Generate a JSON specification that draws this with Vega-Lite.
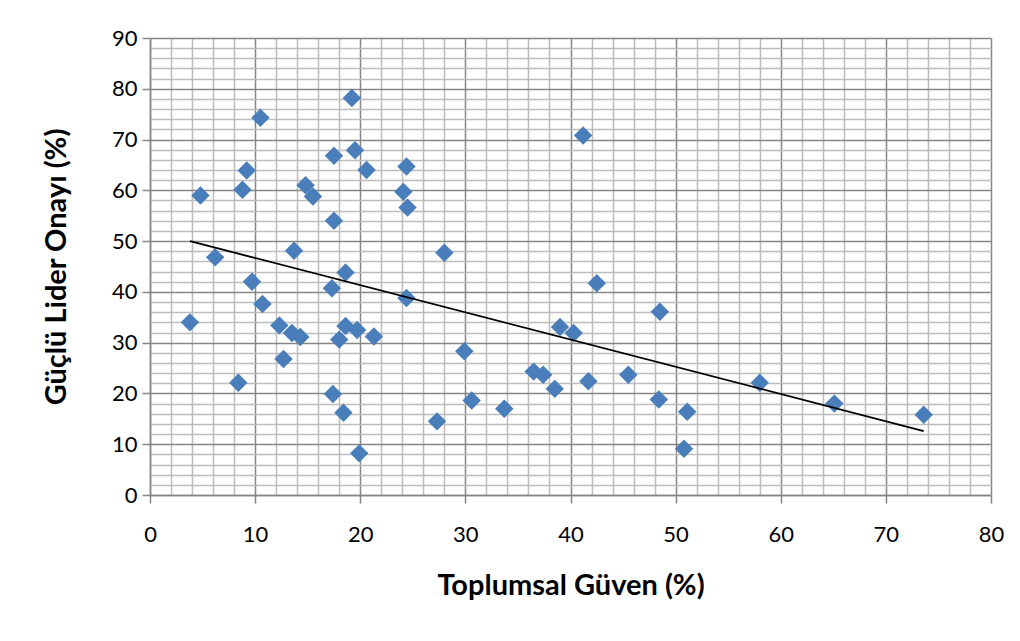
{
  "$schema": "https://vega.github.io/schema/vega-lite/v6.json",
  "width": 841,
  "height": 457,
  "autosize": {"type": "none"},
  "padding": {"left": 150, "top": 38, "right": 29, "bottom": 146},
  "background": "white",
  "config": {"view": {"stroke": null}},
  "datasets": {
    "pts": [
      {"guven": 3.8, "onay": 34.0}, {"guven": 4.8, "onay": 59.0}, {"guven": 6.2, "onay": 46.8},
      {"guven": 8.4, "onay": 22.1}, {"guven": 8.8, "onay": 60.1}, {"guven": 9.2, "onay": 63.9},
      {"guven": 9.7, "onay": 42.0}, {"guven": 10.5, "onay": 74.3}, {"guven": 10.7, "onay": 37.6},
      {"guven": 12.3, "onay": 33.4}, {"guven": 12.7, "onay": 26.8}, {"guven": 13.5, "onay": 31.9},
      {"guven": 13.7, "onay": 48.1}, {"guven": 14.3, "onay": 31.1}, {"guven": 14.8, "onay": 61.0},
      {"guven": 15.5, "onay": 58.8}, {"guven": 17.3, "onay": 40.7}, {"guven": 17.4, "onay": 19.9},
      {"guven": 17.5, "onay": 66.8}, {"guven": 17.5, "onay": 54.0}, {"guven": 18.0, "onay": 30.6},
      {"guven": 18.4, "onay": 16.2}, {"guven": 18.6, "onay": 43.8}, {"guven": 18.6, "onay": 33.3},
      {"guven": 19.2, "onay": 78.2}, {"guven": 19.5, "onay": 67.9}, {"guven": 19.7, "onay": 32.5},
      {"guven": 19.9, "onay": 8.2}, {"guven": 20.6, "onay": 64.0}, {"guven": 21.3, "onay": 31.2},
      {"guven": 24.1, "onay": 59.7}, {"guven": 24.4, "onay": 64.7}, {"guven": 24.5, "onay": 56.6},
      {"guven": 24.4, "onay": 38.8}, {"guven": 27.3, "onay": 14.5}, {"guven": 28.0, "onay": 47.7},
      {"guven": 29.9, "onay": 28.3}, {"guven": 30.6, "onay": 18.6}, {"guven": 33.7, "onay": 17.0},
      {"guven": 36.5, "onay": 24.3}, {"guven": 37.4, "onay": 23.7}, {"guven": 38.5, "onay": 20.9},
      {"guven": 39.0, "onay": 33.1}, {"guven": 40.3, "onay": 31.9}, {"guven": 41.2, "onay": 70.8},
      {"guven": 41.7, "onay": 22.4}, {"guven": 42.5, "onay": 41.7}, {"guven": 45.5, "onay": 23.7},
      {"guven": 48.4, "onay": 18.8}, {"guven": 48.5, "onay": 36.1}, {"guven": 50.8, "onay": 9.1},
      {"guven": 51.1, "onay": 16.4}, {"guven": 58.0, "onay": 22.1}, {"guven": 65.1, "onay": 18.0},
      {"guven": 73.6, "onay": 15.8}
    ],
    "trend": [
      {"guven": 3.8, "onay": 50.0},
      {"guven": 73.6, "onay": 12.6}
    ]
  },
  "layer": [
    {
      "data": {"name": "pts"},
      "mark": {"type": "point", "shape": "diamond", "filled": true, "size": 340, "color": "#4A7EBB", "opacity": 1},
      "encoding": {
        "x": {
          "field": "guven", "type": "quantitative",
          "scale": {"domain": [0, 80], "nice": false, "zero": false},
          "axis": {
            "orient": "bottom", "title": null, "labels": false, "ticks": false, "domain": false,
            "values": [2,4,6,8,12,14,16,18,22,24,26,28,32,34,36,38,42,44,46,48,52,54,56,58,62,64,66,68,72,74,76,78],
            "grid": true, "gridColor": "#BDBDBD", "gridWidth": 1.5
          }
        },
        "y": {
          "field": "onay", "type": "quantitative",
          "scale": {"domain": [0, 90], "nice": false, "zero": false},
          "axis": {
            "orient": "left", "title": null, "labels": false, "ticks": false, "domain": false,
            "values": [2,4,6,8,12,14,16,18,22,24,26,28,32,34,36,38,42,44,46,48,52,54,56,58,62,64,66,68,72,74,76,78,82,84,86,88],
            "grid": true, "gridColor": "#BDBDBD", "gridWidth": 1.5
          }
        }
      }
    },
    {
      "data": {"name": "trend"},
      "mark": {"type": "line", "color": "#000000", "strokeWidth": 1.8},
      "encoding": {
        "x": {
          "field": "guven", "type": "quantitative",
          "axis": {
            "orient": "bottom", "title": "Toplumsal Güven (%)",
            "values": [0,10,20,30,40,50,60,70,80],
            "grid": true, "gridColor": "#868686", "gridWidth": 1.5,
            "domainColor": "#868686", "domainWidth": 1.5,
            "tickColor": "#868686", "tickWidth": 1.5, "tickSize": 8,
            "labelFont": "Lato", "labelFontSize": 22, "labelColor": "#000000", "labelPadding": 21,
            "labelFlush": false,
            "titleFont": "Lato", "titleFontSize": 29, "titleFontWeight": "bold", "titleColor": "#000000",
            "titlePadding": 26
          }
        },
        "y": {
          "field": "onay", "type": "quantitative",
          "axis": {
            "orient": "left", "title": "Güçlü Lider Onayı (%)",
            "values": [0,10,20,30,40,50,60,70,80,90],
            "grid": true, "gridColor": "#868686", "gridWidth": 1.5,
            "domainColor": "#868686", "domainWidth": 1.5,
            "tickColor": "#868686", "tickWidth": 1.5, "tickSize": 8,
            "labelFont": "Lato", "labelFontSize": 22, "labelColor": "#000000", "labelPadding": 5,
            "labelFlush": false,
            "titleFont": "Lato", "titleFontSize": 29, "titleFontWeight": "bold", "titleColor": "#000000",
            "titlePadding": 40
          }
        }
      }
    }
  ],
  "resolve": {"axis": {"x": "independent", "y": "independent"}}
}
